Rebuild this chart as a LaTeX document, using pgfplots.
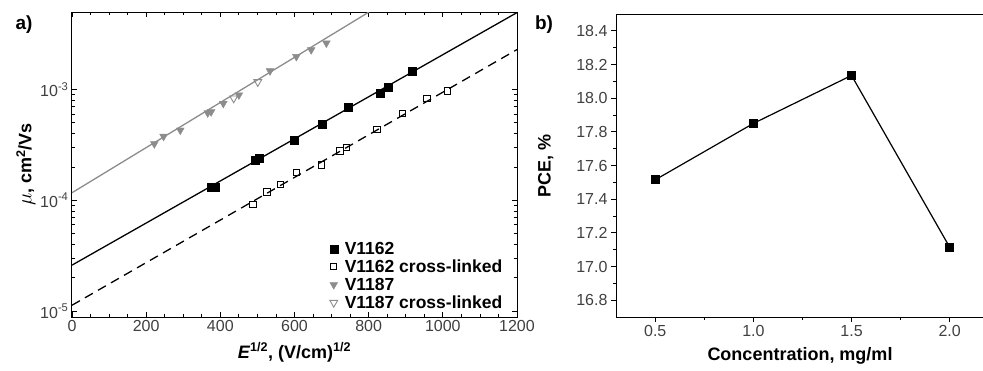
\documentclass[border=0pt]{standalone}
\usepackage{fontspec}
\setmainfont{Liberation Sans}
\usepackage{pgfplots}
\pgfplotsset{compat=1.18}
\definecolor{tgray}{gray}{0.55}
\begin{document}
\begin{tikzpicture}
\useasboundingbox (0,0) rectangle (983pt,-370pt);
\begin{axis}[
  at={(72pt,-317pt)}, anchor=south west,
  scale only axis, width=445pt, height=305pt,
  xmin=0, xmax=1200, ymode=log, ymin=8.85e-6, ymax=5e-3,
  xtick={0,200,...,1200}, minor x tick num=3,
  ytick={1e-5,1e-4,1e-3},
  yticklabels={10\textsuperscript{-5},10\textsuperscript{-4},10\textsuperscript{-3}},
  tick align=inside,
  major tick length=5pt, minor tick length=3pt,
  axis line style={line width=1pt},
  every tick/.style={line width=0.8pt, black},
  /pgf/number format/assume math mode=true,
  /pgf/number format/1000 sep={},
  ticklabel style={font=\fontsize{16}{16}\selectfont, text=black!75},
  xlabel={\textbf{\textit{E}\textsuperscript{1/2}, (V/cm)\textsuperscript{1/2}}},
  ylabel={{\fontsize{20}{20}\selectfont$\mu$}\textbf{, cm\textsuperscript{2}/Vs}},
  label style={font=\fontsize{18}{18}\selectfont},
  xlabel style={yshift=-4pt},
  ylabel style={yshift=-2pt},
  legend style={at={(0.99,0.01)}, anchor=south east, draw=none, fill=none,
    font=\fontsize{17.5}{17.5}\selectfont\bfseries, row sep=0pt,
    nodes={inner xsep=7pt}},
  legend cell align=left,
]
\addplot[only marks, mark=square*, mark size=4pt, black] coordinates {
 (375,1.31e-4) (387,1.31e-4) (495,2.30e-4) (506,2.39e-4) (598,3.45e-4)
 (675,4.91e-4) (744,6.98e-4) (832,9.35e-4) (853,1.05e-3) (918,1.45e-3)};
\addlegendentry{V1162}
\addplot[only marks, mark=square, mark size=3.2pt, black, mark options={line width=1pt}] coordinates {
 (488,9.22e-5) (526,1.19e-4) (562,1.39e-4) (605,1.79e-4) (672,2.08e-4)
 (723,2.78e-4) (740,2.98e-4) (822,4.35e-4) (892,6.05e-4) (957,8.33e-4) (1012,9.67e-4)};
\addlegendentry{V1162 cross-linked}
\addplot[only marks, mark=triangle*, mark size=4.5pt, tgray, mark options={rotate=180}] coordinates {
 (222,3.23e-4) (247,3.77e-4) (292,4.29e-4) (366,6.14e-4) (375,6.27e-4)
 (408,7.48e-4) (450,8.91e-4) (534,1.47e-3) (605,1.98e-3) (645,2.28e-3) (686,2.62e-3)};
\addlegendentry{V1187}
\addplot[only marks, mark=triangle, mark size=4.5pt, tgray, mark options={rotate=180, line width=0.9pt}] coordinates {
 (436,8.33e-4) (501,1.17e-3)};
\addlegendentry{V1187 cross-linked}
\addplot[forget plot, tgray, line width=1.3pt] coordinates {(0,1.17e-4) (801,5e-3)};
\addplot[forget plot, black, line width=1.3pt] coordinates {(0,2.60e-5) (1200,4.94e-3)};
\addplot[forget plot, black, line width=1.3pt, dash pattern=on 9pt off 6pt] coordinates {(0,1.13e-5) (1200,2.29e-3)};
\end{axis}
\begin{axis}[
  at={(616pt,-317pt)}, anchor=south west,
  scale only axis, width=368pt, height=303pt,
  xmin=0.3, xmax=2.175, ymin=16.7, ymax=18.5,
  xtick={0.5,1.0,1.5,2.0}, minor x tick num=1,
  ytick={16.8,17.0,...,18.4}, minor y tick num=1,
  tick align=outside, xtick pos=lower, ytick pos=left,
  major tick length=5pt, minor tick length=3pt,
  axis line style={line width=1pt},
  every tick/.style={line width=0.8pt, black},
  /pgf/number format/assume math mode=true,
  xticklabel style={/pgf/number format/.cd, fixed, fixed zerofill, precision=1},
  yticklabel style={/pgf/number format/.cd, fixed, fixed zerofill, precision=1},
  ticklabel style={font=\fontsize{16}{16}\selectfont, text=black!75},
  xlabel={\textbf{Concentration, mg/ml}},
  ylabel={\textbf{PCE, \%}},
  label style={font=\fontsize{18}{18}\selectfont},
  xlabel style={yshift=-4pt},
  ylabel style={yshift=16pt},
]
\addplot[black, line width=1.2pt, mark=square*, mark size=4pt] coordinates {
 (0.5,17.515) (1.0,17.85) (1.5,18.135) (2.0,17.115)};
\end{axis}
\node[font=\fontsize{19}{19}\selectfont\bfseries] at (24pt,-25pt) {a)};
\node[font=\fontsize{19}{19}\selectfont\bfseries] at (544pt,-25pt) {b)};
\end{tikzpicture}
\end{document}
